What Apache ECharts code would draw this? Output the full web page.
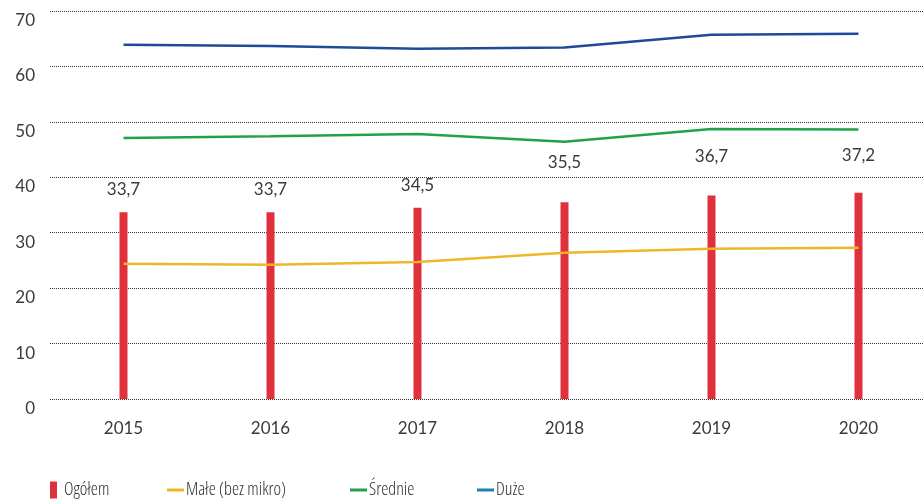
<!DOCTYPE html>
<html>
<head>
<meta charset="utf-8">
<script src="https://cdn.jsdelivr.net/npm/echarts@6/dist/echarts.min.js"></script>
<style>
  html, body { margin: 0; padding: 0; background: #ffffff; }
  #chart { width: 923px; height: 500px; }
</style>
</head>
<body>
<div id="chart"></div>
<script>
// Years on the category axis
const years = ['2015', '2016', '2017', '2018', '2019', '2020'];

// Ogółem (bars)
const ogolem = [33.7, 33.7, 34.5, 35.5, 36.7, 37.2];
// Małe (bez mikro)
const male = [24.4, 24.2, 24.7, 26.4, 27.1, 27.3];
// Średnie
const srednie = [47.1, 47.4, 47.8, 46.4, 48.7, 48.6];
// Duże
const duze = [63.9, 63.7, 63.2, 63.4, 65.7, 65.9];

// Value-axis ticks
const yTicks = [0, 10, 20, 30, 40, 50, 60, 70];

const FONT = 'Lato, "DejaVu Sans", sans-serif';
const LEGEND_FONT = '"Open Sans", "Roboto", sans-serif';
const TEXT = '#3a3a3a';

const RED = '#e0303c';
const YELLOW = '#f0b62a';
const GREEN = '#22a14a';
const NAVY = '#1e4b98';
const LEGEND_BLUE = '#1f80b6';

// The later value labels sit higher above their bars
const labelDistance = [14, 14, 14, 31, 31, 29];

const chart = echarts.init(document.getElementById('chart'), null, { renderer: 'canvas' });

const linePath = 'path://M0,0H17V3H0Z';
const barPath = 'path://M0,0H7V17H0Z';

function legendAt(name, left, icon, color) {
  return {
    data: [{ name: name, icon: icon, itemStyle: { color: color, borderWidth: 0 } }],
    left: left,
    top: 481,
    itemWidth: 17,
    itemHeight: 17,
    itemGap: 0,
    padding: 0,
    symbolKeepAspect: true,
    selectedMode: false,
    textStyle: {
      // narrow face for the legend captions
      fontFamily: LEGEND_FONT, fontWeight: '300 condensed', fontSize: 18,
      color: '#2e2e2e', padding: [1, 0, 0, -3]
    }
  };
}

chart.setOption({
  animation: false,
  grid: {
    left: 50, width: 882, top: 11, height: 388,
    containLabel: false, outerBoundsMode: 'none'
  },
  legend: [
    legendAt('Ogółem', 50, barPath, RED),
    legendAt('Małe (bez mikro)', 167, linePath, YELLOW),
    legendAt('Średnie', 350, linePath, GREEN),
    legendAt('Duże', 477, linePath, LEGEND_BLUE)
  ],
  xAxis: {
    type: 'category',
    data: years,
    boundaryGap: true,
    axisLine: { show: false },
    axisTick: { show: false },
    axisLabel: { fontFamily: FONT, fontSize: 17, color: TEXT, margin: 21 }
  },
  yAxis: {
    type: 'value',
    min: yTicks[0],
    max: yTicks[yTicks.length - 1],
    interval: yTicks[1] - yTicks[0],
    axisLine: { show: false },
    axisTick: { show: false },
    axisLabel: {
      fontFamily: FONT, fontSize: 17, color: TEXT, margin: 15,
      verticalAlign: 'top', padding: [1, 0, 0, 0]
    },
    splitLine: { show: true, lineStyle: { color: '#333333', type: [1, 1], width: 1 } }
  },
  series: [
    {
      name: 'Ogółem',
      type: 'bar',
      data: ogolem.map((v, i) => ({
        value: v,
        label: { distance: labelDistance[i] }
      })),
      barWidth: 8,
      itemStyle: { color: RED },
      label: {
        show: true,
        position: 'top',
        fontFamily: FONT,
        fontSize: 17,
        color: TEXT,
        formatter: p => String(p.value).replace('.', ',')
      },
      z: 2
    },
    {
      name: 'Małe (bez mikro)',
      type: 'line',
      data: male,
      showSymbol: false,
      lineStyle: { color: YELLOW, width: 2.5 },
      itemStyle: { color: YELLOW },
      z: 3
    },
    {
      name: 'Średnie',
      type: 'line',
      data: srednie,
      showSymbol: false,
      lineStyle: { color: GREEN, width: 2.5 },
      itemStyle: { color: GREEN },
      z: 3
    },
    {
      name: 'Duże',
      type: 'line',
      data: duze,
      showSymbol: false,
      lineStyle: { color: NAVY, width: 2.5 },
      itemStyle: { color: NAVY },
      z: 3
    }
  ]
});
</script>
</body>
</html>
